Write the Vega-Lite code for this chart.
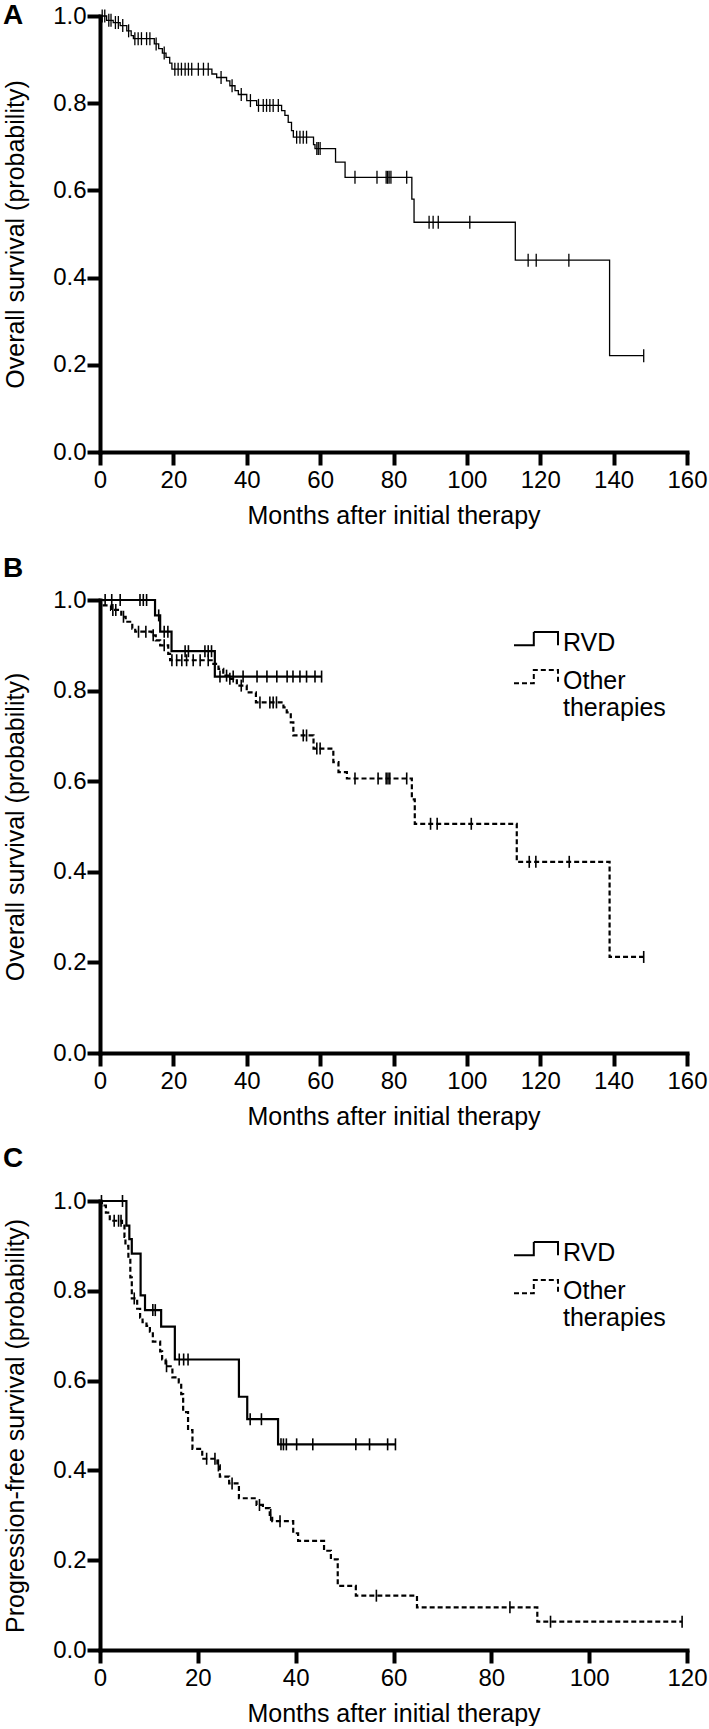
{
  "$schema": "https://vega.github.io/schema/vega-lite/v6.json",
  "background": "white",
  "padding": {"left": 3, "top": 2, "right": 0, "bottom": 0},
  "bounds": "flush",
  "spacing": 148,
  "resolve": {"scale": {"strokeDash": "independent"}, "legend": {"strokeDash": "independent"}},
  "config": {
    "view": {"stroke": null},
    "axis": {
      "domainColor": "black", "domainWidth": 4, "domainCap": "square",
      "tickColor": "black", "tickWidth": 4, "tickSize": 13,
      "labelFont": "Liberation Sans", "labelFontSize": 24, "labelColor": "black",
      "labelFlush": false, "labelOverlap": false,
      "titleFont": "Liberation Sans", "titleFontSize": 25, "titleFontWeight": "normal", "titleColor": "black",
      "grid": false
    },
    "axisX": {"labelPadding": 3, "titlePadding": 11},
    "axisY": {"labelPadding": 1, "titlePadding": 24},
    "title": {"font": "Liberation Sans", "fontSize": 28, "fontWeight": "bold", "color": "black", "anchor": "start", "frame": "group", "orient": "top", "offset": 0, "baseline": "alphabetic"},
    "legend": {
      "orient": "none", "legendX": 413, "title": null, "padding": 0,
      "symbolType": "M-1,0.1H-0.1V-0.5H1V0.1",
      "symbolSize": 1936, "symbolStrokeWidth": 2, "symbolStrokeColor": "black", "symbolFillColor": "transparent",
      "labelFont": "Liberation Sans", "labelFontSize": 25, "labelColor": "black", "labelOffset": 4, "labelLimit": 0,
      "rowPadding": 2
    }
  },
  "datasets": {
    "aCurve": [
      {"t": 0, "s": 1}, {"t": 1.8, "s": 0.99}, {"t": 3.6, "s": 0.985}, {"t": 5.5, "s": 0.978}, {"t": 7.3, "s": 0.966},
      {"t": 8.5, "s": 0.955}, {"t": 9.1, "s": 0.948}, {"t": 14.8, "s": 0.936}, {"t": 16.0, "s": 0.925}, {"t": 17.0, "s": 0.915},
      {"t": 18.0, "s": 0.905}, {"t": 19.0, "s": 0.892}, {"t": 19.6, "s": 0.878}, {"t": 30.5, "s": 0.867}, {"t": 31.8, "s": 0.859},
      {"t": 34.5, "s": 0.851}, {"t": 35.4, "s": 0.84}, {"t": 36.8, "s": 0.829}, {"t": 37.7, "s": 0.82}, {"t": 40.0, "s": 0.806},
      {"t": 42.7, "s": 0.795}, {"t": 49.5, "s": 0.783}, {"t": 50.4, "s": 0.772}, {"t": 51.3, "s": 0.756}, {"t": 52.2, "s": 0.737},
      {"t": 52.7, "s": 0.722}, {"t": 58.2, "s": 0.705}, {"t": 58.6, "s": 0.696}, {"t": 64.2, "s": 0.665}, {"t": 66.8, "s": 0.63},
      {"t": 85.0, "s": 0.58}, {"t": 85.6, "s": 0.527}, {"t": 113.2, "s": 0.44}, {"t": 138.9, "s": 0.221}, {"t": 148.2, "s": 0.221}
    ],
    "aCens": [
      {"t": 0.6, "s": 1}, {"t": 1.3, "s": 1}, {"t": 2.4, "s": 0.99}, {"t": 3.0, "s": 0.99}, {"t": 4.2, "s": 0.985}, {"t": 5.0, "s": 0.985},
      {"t": 6.2, "s": 0.978}, {"t": 7.8, "s": 0.966}, {"t": 9.5, "s": 0.948}, {"t": 10.4, "s": 0.948}, {"t": 11.3, "s": 0.948},
      {"t": 12.7, "s": 0.948}, {"t": 13.6, "s": 0.948}, {"t": 15.3, "s": 0.936}, {"t": 17.5, "s": 0.915},
      {"t": 20.4, "s": 0.878}, {"t": 21.3, "s": 0.878}, {"t": 22.2, "s": 0.878}, {"t": 23.2, "s": 0.878}, {"t": 24.1, "s": 0.878},
      {"t": 25.0, "s": 0.878}, {"t": 26.8, "s": 0.878}, {"t": 28.2, "s": 0.878}, {"t": 29.5, "s": 0.878},
      {"t": 33.0, "s": 0.859}, {"t": 36.0, "s": 0.84}, {"t": 38.5, "s": 0.82}, {"t": 41.0, "s": 0.806},
      {"t": 43.2, "s": 0.795}, {"t": 44.5, "s": 0.795}, {"t": 45.4, "s": 0.795}, {"t": 46.3, "s": 0.795}, {"t": 47.2, "s": 0.795}, {"t": 48.6, "s": 0.795},
      {"t": 53.6, "s": 0.722}, {"t": 54.5, "s": 0.722}, {"t": 55.4, "s": 0.722}, {"t": 56.3, "s": 0.722},
      {"t": 59.1, "s": 0.696}, {"t": 59.5, "s": 0.696}, {"t": 60.0, "s": 0.696},
      {"t": 69.5, "s": 0.63}, {"t": 75.5, "s": 0.63}, {"t": 78.0, "s": 0.63}, {"t": 78.4, "s": 0.63}, {"t": 78.8, "s": 0.63}, {"t": 79.3, "s": 0.63}, {"t": 83.6, "s": 0.63},
      {"t": 89.7, "s": 0.527}, {"t": 90.8, "s": 0.527}, {"t": 92.2, "s": 0.527}, {"t": 100.8, "s": 0.527},
      {"t": 116.7, "s": 0.44}, {"t": 118.9, "s": 0.44}, {"t": 127.8, "s": 0.44}, {"t": 148.2, "s": 0.221}
    ],
    "bCurve": [
      {"g": "RVD", "t": 0, "s": 1}, {"g": "RVD", "t": 15.0, "s": 0.966}, {"g": "RVD", "t": 16.4, "s": 0.93},
      {"g": "RVD", "t": 19.5, "s": 0.887}, {"g": "RVD", "t": 31.3, "s": 0.831}, {"g": "RVD", "t": 60.4, "s": 0.831},
      {"g": "Other therapies", "t": 0, "s": 1}, {"g": "Other therapies", "t": 1.0, "s": 0.988}, {"g": "Other therapies", "t": 3.0, "s": 0.978},
      {"g": "Other therapies", "t": 5.8, "s": 0.963}, {"g": "Other therapies", "t": 7.0, "s": 0.952}, {"g": "Other therapies", "t": 8.8, "s": 0.937},
      {"g": "Other therapies", "t": 9.6, "s": 0.93}, {"g": "Other therapies", "t": 14.1, "s": 0.922}, {"g": "Other therapies", "t": 15.2, "s": 0.911},
      {"g": "Other therapies", "t": 16.4, "s": 0.9}, {"g": "Other therapies", "t": 18.6, "s": 0.881}, {"g": "Other therapies", "t": 19.1, "s": 0.867},
      {"g": "Other therapies", "t": 30.9, "s": 0.859}, {"g": "Other therapies", "t": 32.3, "s": 0.848}, {"g": "Other therapies", "t": 33.6, "s": 0.833},
      {"g": "Other therapies", "t": 35.0, "s": 0.826}, {"g": "Other therapies", "t": 37.3, "s": 0.811}, {"g": "Other therapies", "t": 40.0, "s": 0.796},
      {"g": "Other therapies", "t": 42.5, "s": 0.774}, {"g": "Other therapies", "t": 50.0, "s": 0.763}, {"g": "Other therapies", "t": 50.9, "s": 0.752},
      {"g": "Other therapies", "t": 52.0, "s": 0.73}, {"g": "Other therapies", "t": 52.7, "s": 0.701}, {"g": "Other therapies", "t": 58.2, "s": 0.672},
      {"g": "Other therapies", "t": 63.6, "s": 0.642}, {"g": "Other therapies", "t": 65.0, "s": 0.62}, {"g": "Other therapies", "t": 67.3, "s": 0.606},
      {"g": "Other therapies", "t": 85.0, "s": 0.56}, {"g": "Other therapies", "t": 85.8, "s": 0.506}, {"g": "Other therapies", "t": 113.6, "s": 0.422},
      {"g": "Other therapies", "t": 138.9, "s": 0.212}, {"g": "Other therapies", "t": 148.2, "s": 0.212}
    ],
    "bCens": [
      {"t": 1.4, "s": 1}, {"t": 3.2, "s": 1}, {"t": 5.5, "s": 1}, {"t": 10.9, "s": 1}, {"t": 11.8, "s": 1}, {"t": 12.7, "s": 1},
      {"t": 16.0, "s": 0.966}, {"t": 17.5, "s": 0.93}, {"t": 18.5, "s": 0.93},
      {"t": 23.2, "s": 0.887}, {"t": 24.1, "s": 0.887}, {"t": 28.6, "s": 0.887}, {"t": 29.5, "s": 0.887}, {"t": 30.4, "s": 0.887},
      {"t": 32.7, "s": 0.831}, {"t": 36.3, "s": 0.831}, {"t": 39.0, "s": 0.831}, {"t": 42.8, "s": 0.831}, {"t": 45.5, "s": 0.831}, {"t": 48.2, "s": 0.831},
      {"t": 51.0, "s": 0.831}, {"t": 52.6, "s": 0.831}, {"t": 54.5, "s": 0.831}, {"t": 56.3, "s": 0.831}, {"t": 58.6, "s": 0.831}, {"t": 60.4, "s": 0.831},
      {"t": 3.5, "s": 0.978}, {"t": 4.3, "s": 0.978}, {"t": 6.4, "s": 0.963}, {"t": 10.5, "s": 0.93}, {"t": 12.5, "s": 0.93}, {"t": 14.5, "s": 0.922},
      {"t": 17.5, "s": 0.9}, {"t": 19.6, "s": 0.867}, {"t": 20.9, "s": 0.867}, {"t": 22.3, "s": 0.867}, {"t": 23.6, "s": 0.867}, {"t": 25.4, "s": 0.867},
      {"t": 27.3, "s": 0.867}, {"t": 29.5, "s": 0.867}, {"t": 34.5, "s": 0.833}, {"t": 35.4, "s": 0.826}, {"t": 38.5, "s": 0.811},
      {"t": 43.6, "s": 0.774}, {"t": 46.3, "s": 0.774}, {"t": 47.2, "s": 0.774}, {"t": 48.1, "s": 0.774},
      {"t": 55.4, "s": 0.701}, {"t": 56.3, "s": 0.701}, {"t": 59.1, "s": 0.672}, {"t": 60.0, "s": 0.672},
      {"t": 69.5, "s": 0.606}, {"t": 75.8, "s": 0.606}, {"t": 78.0, "s": 0.606}, {"t": 78.5, "s": 0.606}, {"t": 79.0, "s": 0.606}, {"t": 83.6, "s": 0.606},
      {"t": 90.1, "s": 0.506}, {"t": 91.9, "s": 0.506}, {"t": 101.2, "s": 0.506},
      {"t": 117.0, "s": 0.422}, {"t": 118.8, "s": 0.422}, {"t": 127.9, "s": 0.422}, {"t": 148.2, "s": 0.212}
    ],
    "cCurve": [
      {"g": "RVD", "t": 0, "s": 1}, {"g": "RVD", "t": 5.4, "s": 0.945}, {"g": "RVD", "t": 6.0, "s": 0.915}, {"g": "RVD", "t": 6.5, "s": 0.883},
      {"g": "RVD", "t": 8.3, "s": 0.79}, {"g": "RVD", "t": 9.2, "s": 0.757}, {"g": "RVD", "t": 12.5, "s": 0.72}, {"g": "RVD", "t": 15.3, "s": 0.647},
      {"g": "RVD", "t": 28.4, "s": 0.564}, {"g": "RVD", "t": 30.1, "s": 0.514}, {"g": "RVD", "t": 36.4, "s": 0.458}, {"g": "RVD", "t": 60.4, "s": 0.458},
      {"g": "Other therapies", "t": 0, "s": 1}, {"g": "Other therapies", "t": 0.4, "s": 0.99}, {"g": "Other therapies", "t": 1.2, "s": 0.974},
      {"g": "Other therapies", "t": 2.0, "s": 0.956}, {"g": "Other therapies", "t": 4.5, "s": 0.945}, {"g": "Other therapies", "t": 5.0, "s": 0.92},
      {"g": "Other therapies", "t": 5.2, "s": 0.9}, {"g": "Other therapies", "t": 5.8, "s": 0.872}, {"g": "Other therapies", "t": 6.2, "s": 0.83},
      {"g": "Other therapies", "t": 6.5, "s": 0.783}, {"g": "Other therapies", "t": 7.6, "s": 0.76}, {"g": "Other therapies", "t": 8.2, "s": 0.74},
      {"g": "Other therapies", "t": 8.7, "s": 0.73}, {"g": "Other therapies", "t": 9.5, "s": 0.722}, {"g": "Other therapies", "t": 10.2, "s": 0.709},
      {"g": "Other therapies", "t": 10.8, "s": 0.687}, {"g": "Other therapies", "t": 12.3, "s": 0.665}, {"g": "Other therapies", "t": 12.7, "s": 0.647},
      {"g": "Other therapies", "t": 13.4, "s": 0.632}, {"g": "Other therapies", "t": 14.8, "s": 0.607}, {"g": "Other therapies", "t": 16.1, "s": 0.596},
      {"g": "Other therapies", "t": 16.6, "s": 0.57}, {"g": "Other therapies", "t": 17.0, "s": 0.53}, {"g": "Other therapies", "t": 18.0, "s": 0.49},
      {"g": "Other therapies", "t": 18.9, "s": 0.448}, {"g": "Other therapies", "t": 20.9, "s": 0.426}, {"g": "Other therapies", "t": 24.0, "s": 0.411},
      {"g": "Other therapies", "t": 24.5, "s": 0.386}, {"g": "Other therapies", "t": 26.4, "s": 0.371}, {"g": "Other therapies", "t": 28.4, "s": 0.338},
      {"g": "Other therapies", "t": 32.0, "s": 0.323}, {"g": "Other therapies", "t": 33.3, "s": 0.316}, {"g": "Other therapies", "t": 34.7, "s": 0.301},
      {"g": "Other therapies", "t": 35.2, "s": 0.287}, {"g": "Other therapies", "t": 39.5, "s": 0.26}, {"g": "Other therapies", "t": 40.5, "s": 0.243},
      {"g": "Other therapies", "t": 45.8, "s": 0.221}, {"g": "Other therapies", "t": 47.2, "s": 0.202}, {"g": "Other therapies", "t": 48.6, "s": 0.143},
      {"g": "Other therapies", "t": 52.3, "s": 0.121}, {"g": "Other therapies", "t": 64.8, "s": 0.095}, {"g": "Other therapies", "t": 89.4, "s": 0.063},
      {"g": "Other therapies", "t": 119.0, "s": 0.063}
    ],
    "cCens": [
      {"t": 0.3, "s": 1}, {"t": 4.6, "s": 1}, {"t": 10.8, "s": 0.757}, {"t": 11.3, "s": 0.757},
      {"t": 16.2, "s": 0.647}, {"t": 17.1, "s": 0.647}, {"t": 18.0, "s": 0.647}, {"t": 30.7, "s": 0.514}, {"t": 33.0, "s": 0.514},
      {"t": 37.0, "s": 0.458}, {"t": 37.5, "s": 0.458}, {"t": 38.1, "s": 0.458}, {"t": 40.2, "s": 0.458}, {"t": 43.5, "s": 0.458},
      {"t": 52.3, "s": 0.458}, {"t": 55.1, "s": 0.458}, {"t": 58.8, "s": 0.458}, {"t": 60.4, "s": 0.458},
      {"t": 2.9, "s": 0.956}, {"t": 3.8, "s": 0.956}, {"t": 4.3, "s": 0.956}, {"t": 7.0, "s": 0.783}, {"t": 13.6, "s": 0.632},
      {"t": 21.8, "s": 0.426}, {"t": 23.5, "s": 0.426}, {"t": 24.2, "s": 0.411}, {"t": 27.0, "s": 0.371}, {"t": 32.6, "s": 0.323},
      {"t": 34.9, "s": 0.301}, {"t": 36.8, "s": 0.287}, {"t": 56.5, "s": 0.121}, {"t": 83.8, "s": 0.095}, {"t": 92.1, "s": 0.063}, {"t": 119.0, "s": 0.063}
    ]
  },
  "vconcat": [
    {
      "width": 587, "height": 436,
      "title": {"text": "A", "dx": -97, "dy": 30},
      "encoding": {
        "x": {"field": "t", "type": "quantitative", "scale": {"domain": [0, 160], "nice": false},
              "axis": {"values": [0, 20, 40, 60, 80, 100, 120, 140, 160], "title": "Months after initial therapy"}},
        "y": {"field": "s", "type": "quantitative", "scale": {"domain": [0, 1], "nice": false},
              "axis": {"values": [0, 0.2, 0.4, 0.6, 0.8, 1], "format": ".1f", "title": "Overall survival (probability)"}}
      },
      "layer": [
        {"data": {"name": "aCurve"}, "mark": {"type": "line", "interpolate": "step-after", "color": "black", "strokeWidth": 1.3}},
        {"data": {"name": "aCens"}, "mark": {"type": "tick", "orient": "vertical", "size": 13, "thickness": 1.3, "color": "black", "opacity": 1}}
      ]
    },
    {
      "width": 587, "height": 453,
      "title": {"text": "B", "dx": -97, "dy": -1},
      "encoding": {
        "x": {"field": "t", "type": "quantitative", "scale": {"domain": [0, 160], "nice": false},
              "axis": {"values": [0, 20, 40, 60, 80, 100, 120, 140, 160], "title": "Months after initial therapy"}},
        "y": {"field": "s", "type": "quantitative", "scale": {"domain": [0, 1], "nice": false},
              "axis": {"values": [0, 0.2, 0.4, 0.6, 0.8, 1], "format": ".1f", "title": "Overall survival (probability)"}}
      },
      "layer": [
        {"data": {"name": "bCurve"}, "mark": {"type": "line", "interpolate": "step-after", "color": "black", "strokeWidth": 2.2},
         "encoding": {"strokeDash": {"field": "g", "type": "nominal",
           "scale": {"domain": ["RVD", "Other therapies"], "range": [[1, 0], [5, 3]]},
           "legend": {"legendY": 20, "labelExpr": "datum.label == 'Other therapies' ? ['Other', 'therapies'] : datum.label"}}}},
        {"data": {"name": "bCens"}, "mark": {"type": "tick", "orient": "vertical", "size": 12, "thickness": 1.6, "color": "black", "opacity": 1}}
      ]
    },
    {
      "width": 587, "height": 449,
      "title": {"text": "C", "dx": -97, "dy": -12},
      "encoding": {
        "x": {"field": "t", "type": "quantitative", "scale": {"domain": [0, 120], "nice": false},
              "axis": {"values": [0, 20, 40, 60, 80, 100, 120], "title": "Months after initial therapy"}},
        "y": {"field": "s", "type": "quantitative", "scale": {"domain": [0, 1], "nice": false},
              "axis": {"values": [0, 0.2, 0.4, 0.6, 0.8, 1], "format": ".1f", "title": "Progression-free survival (probability)"}}
      },
      "layer": [
        {"data": {"name": "cCurve"}, "mark": {"type": "line", "interpolate": "step-after", "color": "black", "strokeWidth": 2.2},
         "encoding": {"strokeDash": {"field": "g", "type": "nominal",
           "scale": {"domain": ["RVD", "Other therapies"], "range": [[1, 0], [5, 3]]},
           "legend": {"legendY": 29, "labelExpr": "datum.label == 'Other therapies' ? ['Other', 'therapies'] : datum.label"}}}},
        {"data": {"name": "cCens"}, "mark": {"type": "tick", "orient": "vertical", "size": 12, "thickness": 1.6, "color": "black", "opacity": 1}}
      ]
    }
  ]
}
